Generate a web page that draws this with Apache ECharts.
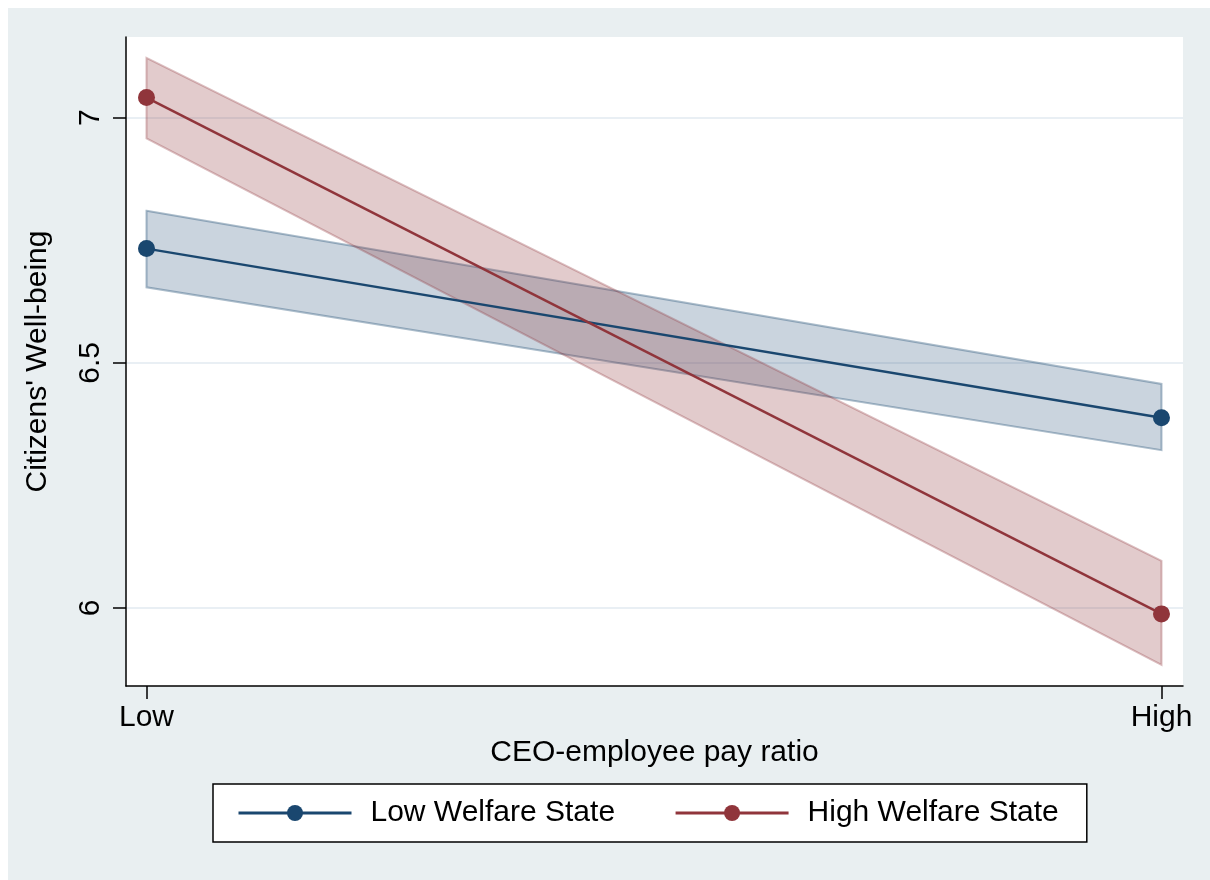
<!DOCTYPE html>
<html>
<head>
<meta charset="utf-8">
<script src="https://cdn.jsdelivr.net/npm/echarts@6/dist/echarts.min.js"></script>
<style>
  html, body { margin: 0; padding: 0; background: #ffffff; }
  #chart { width: 1210px; height: 880px; }
</style>
</head>
<body>
<div id="chart"></div>
<script>
// Pay-ratio levels on the x axis (0 = Low, 1 = High)
const payRatioLevels = [0, 1];
const payRatioLabels = ['Low', 'High'];
const wellbeingTicks = [6, 6.5, 7];

// Predicted well-being with 95% confidence bounds
const lowWelfare   = [6.733, 6.388];
const lowWelfareLo = [6.654, 6.322];
const lowWelfareHi = [6.810, 6.457];

const highWelfare   = [7.041, 5.988];
const highWelfareLo = [6.958, 5.884];
const highWelfareHi = [7.122, 6.096];

const BLUE = '#1a476f';
const RED = '#90353b';
const FONT = "'Liberation Sans', Arial, Helvetica, sans-serif";

function linePoints(values) {
  return payRatioLevels.map((x, i) => [x, values[i]]);
}
function bandData(lo, hi) {
  return payRatioLevels.map((x, i) => [x, lo[i], hi[i]]);
}

// Confidence band as one closed polygon: upper edge left→right, lower edge right→left
function bandSeries(name, lo, hi, fill, stroke) {
  return {
    type: 'custom',
    name: name + ' CI',
    silent: true,
    z: 1,
    data: bandData(lo, hi),
    renderItem: function (params, api) {
      if (params.dataIndex !== 0) return null;
      const n = payRatioLevels.length;
      const upper = [], lower = [];
      for (let i = 0; i < n; i++) {
        upper.push(api.coord([payRatioLevels[i], hi[i]]));
        lower.push(api.coord([payRatioLevels[i], lo[i]]));
      }
      return {
        type: 'polygon',
        shape: { points: upper.concat(lower.reverse()) },
        style: { fill: fill, stroke: stroke, lineWidth: 2 }
      };
    }
  };
}

function lineSeries(name, values, color) {
  return {
    type: 'line',
    name: name,
    z: 3,
    data: linePoints(values),
    symbol: 'circle',
    symbolSize: 17,
    color: color,
    itemStyle: { color: color },
    lineStyle: { color: color, width: 2.5 },
    emphasis: { disabled: true }
  };
}

const chart = echarts.init(document.getElementById('chart'), null, { renderer: 'canvas' });

chart.setOption({
  backgroundColor: '#ffffff',
  animation: false,
  textStyle: { fontFamily: FONT },
  graphic: [{
    type: 'rect',
    z: -10,
    silent: true,
    shape: { x: 8, y: 8, width: 1210, height: 880 },
    style: { fill: '#e9eff1' }
  }],
  grid: {
    left: 126, right: 27, top: 37, bottom: 194,
    show: true, backgroundColor: '#ffffff', borderWidth: 0
  },
  xAxis: {
    type: 'value',
    min: -0.0202,
    max: 1.0212,
    name: 'CEO-employee pay ratio',
    nameLocation: 'middle',
    nameGap: 50,
    nameTextStyle: { fontSize: 30, color: '#000', fontFamily: FONT },
    axisLine: { show: true, onZero: false, lineStyle: { color: '#000', width: 1.5 } },
    axisTick: { show: true, length: 13, lineStyle: { color: '#000', width: 1.5 }, customValues: payRatioLevels },
    axisLabel: {
      fontSize: 30, color: '#000', margin: 17, fontFamily: FONT,
      customValues: payRatioLevels,
      formatter: v => payRatioLabels[payRatioLevels.indexOf(v)] || ''
    },
    splitLine: { show: false }
  },
  yAxis: {
    type: 'value',
    min: 5.8409,
    max: 7.1646,
    name: "Citizens' Well-being",
    nameLocation: 'middle',
    nameGap: 73,
    nameRotate: 90,
    nameTextStyle: { fontSize: 30, color: '#000', fontFamily: FONT },
    axisLine: { show: true, onZero: false, lineStyle: { color: '#000', width: 1.5 } },
    axisTick: { show: true, length: 13, lineStyle: { color: '#000', width: 1.5 }, customValues: wellbeingTicks },
    axisLabel: {
      fontSize: 30, color: '#000', margin: 20, rotate: 90, fontFamily: FONT,
      customValues: wellbeingTicks,
      formatter: v => String(v)
    },
    splitLine: { show: true, lineStyle: { color: '#e2eaf0', width: 1.5 } }
  },
  legend: {
    data: ['Low Welfare State', 'High Welfare State'],
    left: 213,
    top: 784,
    orient: 'horizontal',
    itemWidth: 113,
    itemHeight: 20,
    itemGap: 59,
    padding: [14, 28, 14, 24],
    borderColor: '#000',
    borderWidth: 1.5,
    borderRadius: 0,
    backgroundColor: '#ffffff',
    selectedMode: false,
    lineStyle: { width: 3 },
    textStyle: {
      fontSize: 30, color: '#000', fontFamily: FONT,
      lineHeight: 30,
      padding: [0, 0, 0, 14]
    }
  },
  series: [
    bandSeries('Low Welfare State', lowWelfareLo, lowWelfareHi, 'rgba(26,71,111,0.23)', 'rgba(26,71,111,0.36)'),
    bandSeries('High Welfare State', highWelfareLo, highWelfareHi, 'rgba(144,53,59,0.26)', 'rgba(144,53,59,0.32)'),
    lineSeries('Low Welfare State', lowWelfare, BLUE),
    lineSeries('High Welfare State', highWelfare, RED)
  ]
});
</script>
</body>
</html>
